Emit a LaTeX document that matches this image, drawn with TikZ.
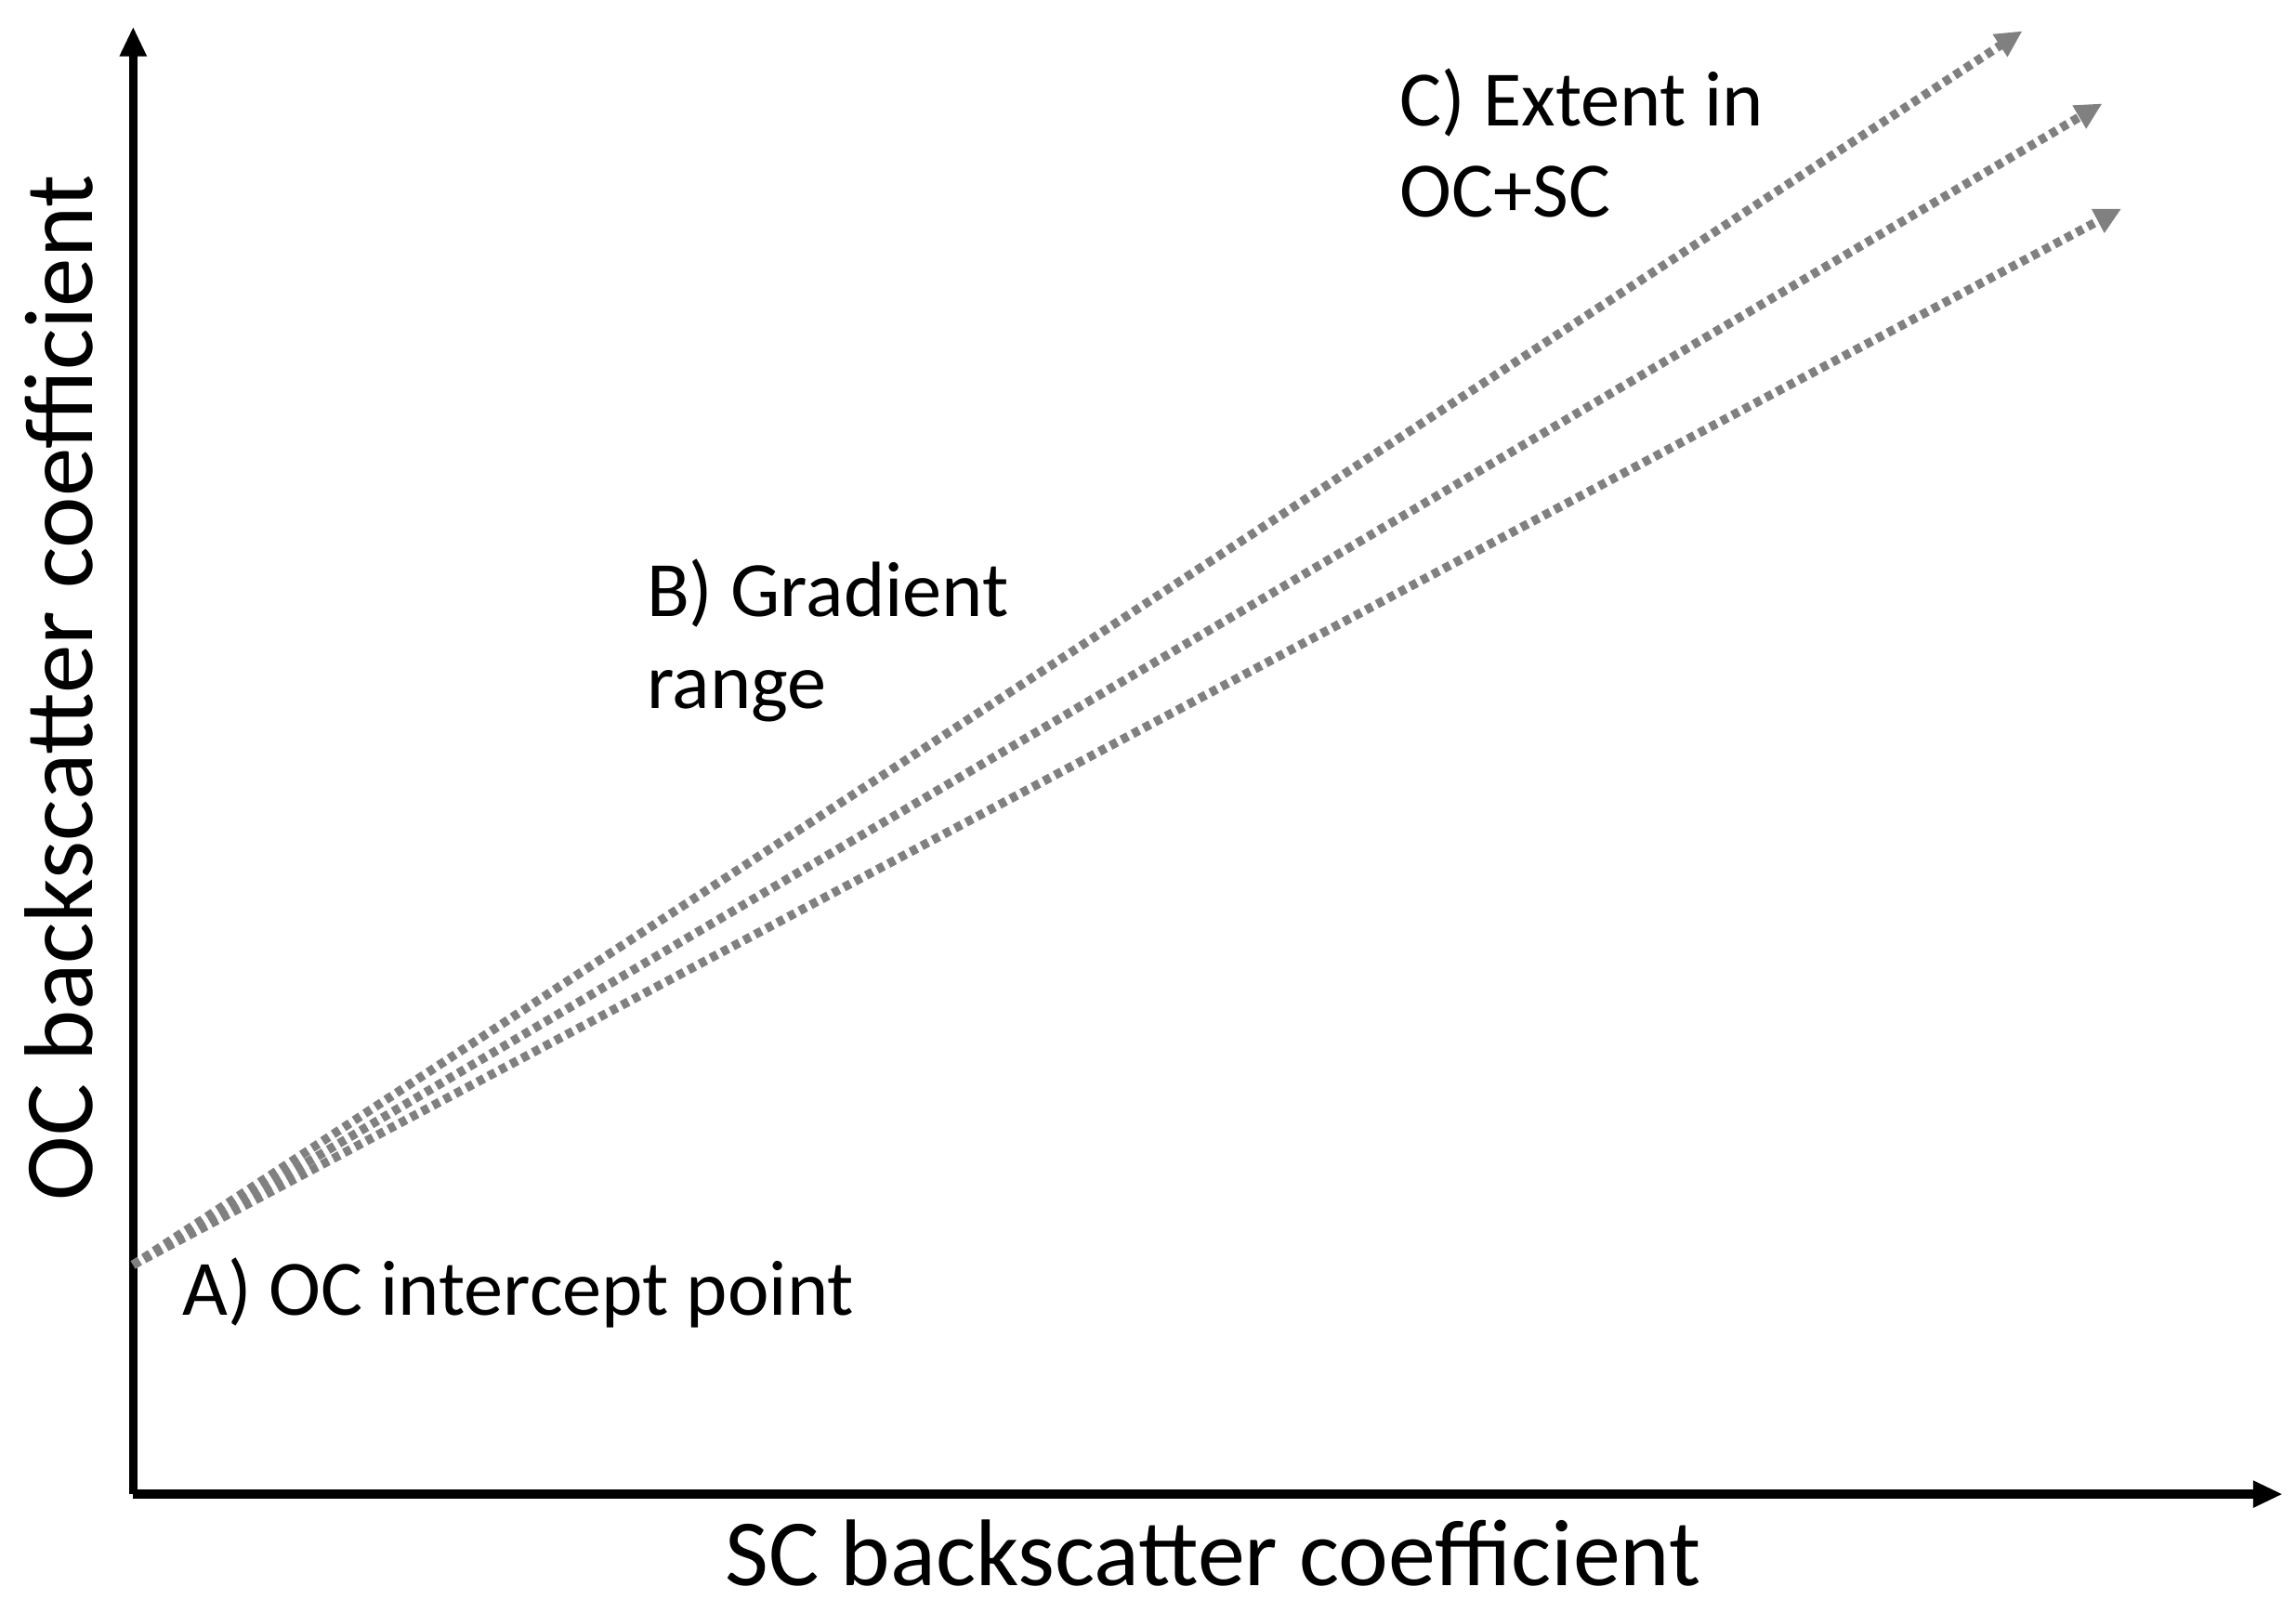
\documentclass[tikz,border=0pt]{standalone}
\usepackage{fontspec}
\setmainfont{Carlito}
\usetikzlibrary{arrows.meta}
\begin{document}
\begin{tikzpicture}[x=1pt,y=-1pt,
  axis/.style={line width=6pt,-{Triangle[length=20pt,width=17pt]}},
  trend/.style={line width=6pt,draw=gray,dash pattern=on 5pt off 3.5pt,-{Triangle[length=18pt,width=17pt]}},
  lbl/.style={font=\fontsize{53}{62}\selectfont,anchor=north west,align=left,inner sep=0pt}]
\useasboundingbox (0,0) rectangle (1552,1090);
\coordinate (o) at (90,1010);
\coordinate (yt) at (90,18);
\coordinate (xt) at (1543,1010);
\coordinate (s) at (90,855);
\coordinate (e1) at (1367,21);
\coordinate (e2) at (1421,70);
\coordinate (e3) at (1434,141);
\draw[axis] (o) -- (yt);
\draw[axis] (o) -- (xt);
\draw[trend] (s) -- (e1);
\draw[trend] (s) -- (e2);
\draw[trend] (s) -- (e3);
\node[font=\fontsize{64}{74}\selectfont] (xl) at (820,1050) {SC backscatter coefficient};
\node[font=\fontsize{66}{76}\selectfont,rotate=90] (yl) at (40,465) {OC backscatter coefficient};
\node[lbl] (a) at (123,850) {A) OC intercept point};
\node[lbl] (b) at (437,378) {B) Gradient\\range};
\node[lbl] (c) at (946,46) {C) Extent in\\OC+SC};
\end{tikzpicture}
\end{document}
